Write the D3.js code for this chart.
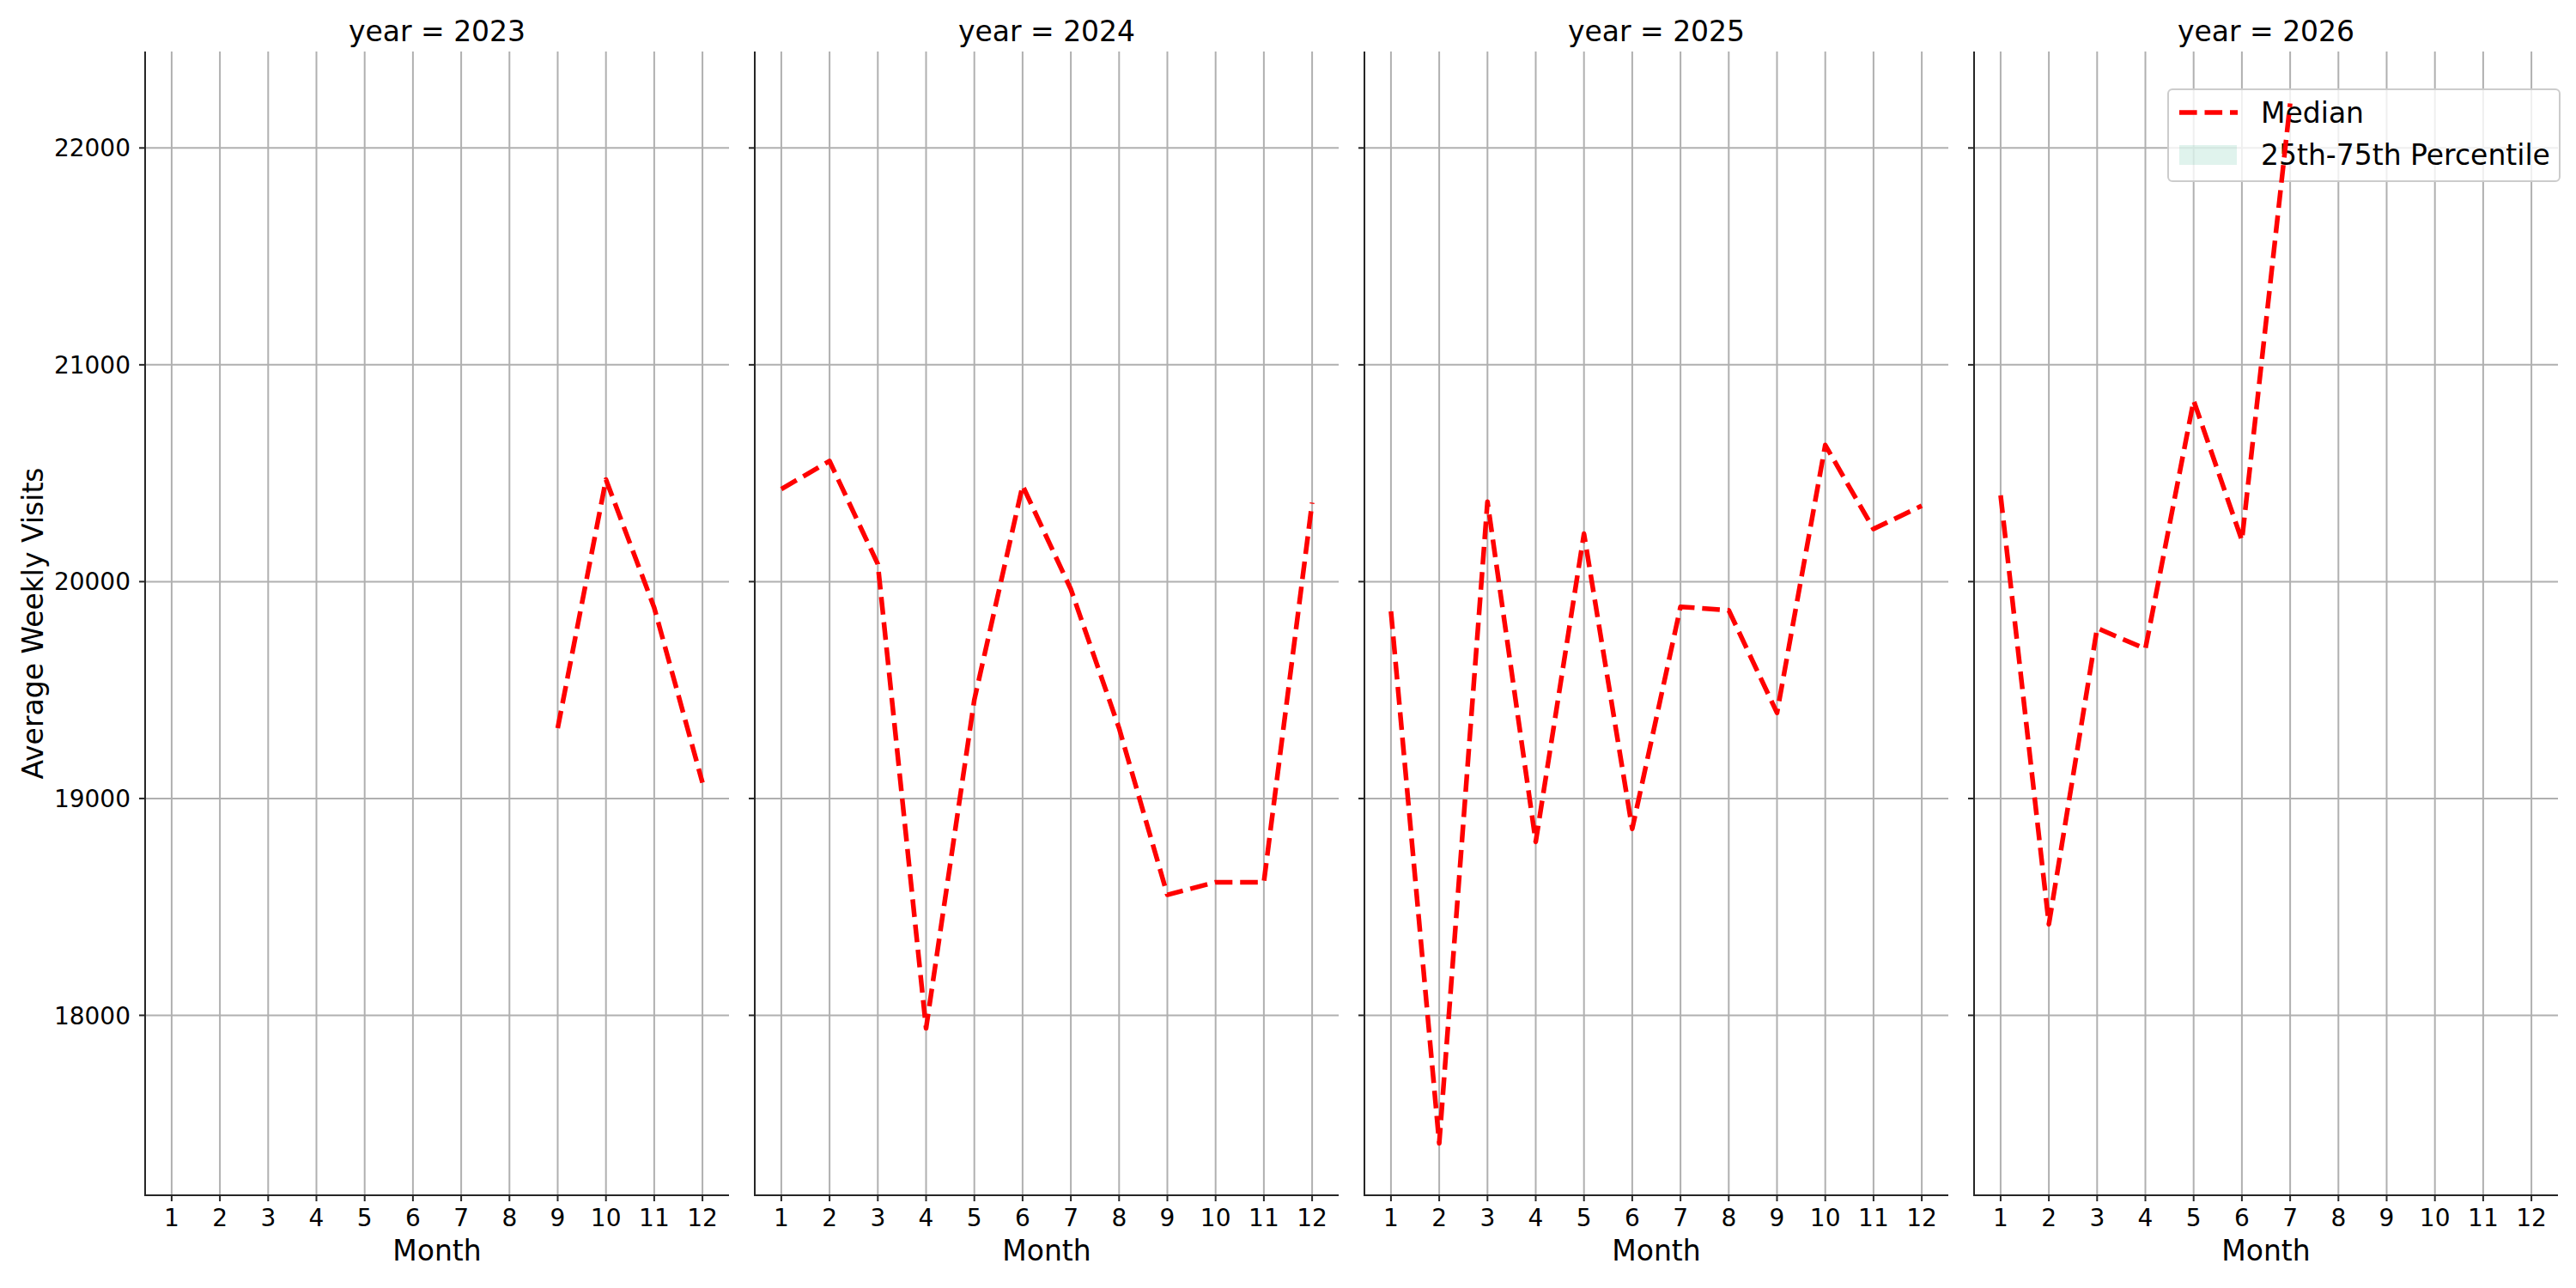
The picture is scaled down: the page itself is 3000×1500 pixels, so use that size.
<!DOCTYPE html>
<html>
<head>
<meta charset="utf-8">
<script src="https://cdn.jsdelivr.net/npm/d3@7"></script>
<style>
  html, body { margin: 0; padding: 0; background: #ffffff; }
  svg { display: block; }
  text { font-family: "DejaVu Sans", sans-serif; fill: #000; }
</style>
</head>
<body>
<svg id="chart" width="3000" height="1500"></svg>
<script>
// ---- data ----
const years = [2023, 2024, 2025, 2026];
const months = [1, 2, 3, 4, 5, 6, 7, 8, 9, 10, 11, 12];
const months2023 = [9, 10, 11, 12];
const median2023 = [19324, 20471, 19880, 19073];
const months2024 = [1, 2, 3, 4, 5, 6, 7, 8, 9, 10, 11, 12];
const median2024 = [20427, 20556, 20081, 17940, 19455, 20443, 19965, 19324, 18556, 18614, 18614, 20364];
const months2025 = [1, 2, 3, 4, 5, 6, 7, 8, 9, 10, 11, 12];
const median2025 = [19863, 17410, 20369, 18800, 20221, 18860, 19884, 19868, 19395, 20630, 20243, 20350];
const months2026 = [1, 2, 3, 4, 5, 6, 7];
const median2026 = [20398, 18420, 19786, 19690, 20835, 20190, 22205];
const yTicks = [18000, 19000, 20000, 21000, 22000];
const legendLabels = ["Median", "25th-75th Percentile"];

const seriesByYear = {
  2023: months2023.map((m, i) => ({ month: m, value: median2023[i] })),
  2024: months2024.map((m, i) => ({ month: m, value: median2024[i] })),
  2025: months2025.map((m, i) => ({ month: m, value: median2025[i] })),
  2026: months2026.map((m, i) => ({ month: m, value: median2026[i] }))
};

// ---- layout ----
const svg = d3.select("#chart");
svg.append("rect").attr("width", 3000).attr("height", 1500).attr("fill", "#fff");

const panelLeft0 = 169, panelStep = 710, panelW = 680;
const plotTop = 60, plotBottom = 1392;

const allVals = [].concat(median2023, median2024, median2025, median2026);
const vMin = d3.min(allVals), vMax = d3.max(allVals);
const pad = (vMax - vMin) * 0.05;
const y = d3.scaleLinear().domain([vMin - pad, vMax + pad]).range([plotBottom, plotTop]);
const x = d3.scaleLinear().domain([1 - 0.55, 12 + 0.55]).range([0, panelW]);

const gridColor = "#b0b0b0";
const spineColor = "#262626";
const lineColor = "#ff0000";
const dash = "20.6,8.9";

const line = d3.line().x(d => x(d.month)).y(d => y(d.value));

const baseLayer = svg.append("g");
const legendLayer = svg.append("g");
const lineLayer = svg.append("g");

years.forEach((yr, pi) => {
  const left = panelLeft0 + pi * panelStep;
  const g = baseLayer.append("g").attr("transform", `translate(${left},0)`);

  // grid
  g.selectAll("line.vgrid").data(months).enter().append("line")
    .attr("x1", d => x(d)).attr("x2", d => x(d))
    .attr("y1", plotTop).attr("y2", plotBottom)
    .attr("stroke", gridColor).attr("stroke-width", 2);
  g.selectAll("line.hgrid").data(yTicks).enter().append("line")
    .attr("x1", 0).attr("x2", panelW)
    .attr("y1", d => y(d)).attr("y2", d => y(d))
    .attr("stroke", gridColor).attr("stroke-width", 2);

  // x ticks
  g.selectAll("line.xtick").data(months).enter().append("line")
    .attr("x1", d => x(d)).attr("x2", d => x(d))
    .attr("y1", plotBottom).attr("y2", plotBottom + 7)
    .attr("stroke", spineColor).attr("stroke-width", 2);
  g.selectAll("text.xtl").data(months).enter().append("text")
    .attr("x", d => x(d)).attr("y", 1428)
    .attr("text-anchor", "middle").attr("font-size", 28)
    .text(d => d);

  // y ticks
  g.selectAll("line.ytick").data(yTicks).enter().append("line")
    .attr("x1", -7).attr("x2", 0)
    .attr("y1", d => y(d)).attr("y2", d => y(d))
    .attr("stroke", spineColor).attr("stroke-width", 2);
  if (pi === 0) {
    g.selectAll("text.ytl").data(yTicks).enter().append("text")
      .attr("x", -17).attr("y", d => y(d))
      .attr("dy", "0.36em")
      .attr("text-anchor", "end").attr("font-size", 28)
      .text(d => d);
  }

  // spines
  g.append("line").attr("x1", 0).attr("x2", 0).attr("y1", plotTop).attr("y2", plotBottom + 1)
    .attr("stroke", spineColor).attr("stroke-width", 2);
  g.append("line").attr("x1", -1).attr("x2", panelW).attr("y1", plotBottom).attr("y2", plotBottom)
    .attr("stroke", spineColor).attr("stroke-width", 2);

  // title
  g.append("text").attr("x", panelW / 2).attr("y", 48)
    .attr("text-anchor", "middle").attr("font-size", 33)
    .text(`year = ${yr}`);
  // x label
  g.append("text").attr("x", panelW / 2).attr("y", 1468)
    .attr("text-anchor", "middle").attr("font-size", 33)
    .text("Month");

  // median line
  lineLayer.append("g").attr("transform", `translate(${left},0)`)
    .append("path").datum(seriesByYear[yr])
    .attr("d", line)
    .attr("fill", "none")
    .attr("stroke", lineColor).attr("stroke-width", 5.5)
    .attr("stroke-dasharray", dash)
    .attr("stroke-linejoin", "round");
});

// y label
baseLayer.append("text")
  .attr("transform", `translate(50,${(plotTop + plotBottom) / 2}) rotate(-90)`)
  .attr("text-anchor", "middle").attr("font-size", 33)
  .text("Average Weekly Visits");

// legend
legendLayer.append("rect").attr("x", 2525).attr("y", 104).attr("width", 456).attr("height", 107)
  .attr("rx", 5).attr("ry", 5)
  .attr("fill", "rgba(255,255,255,0.8)").attr("stroke", "#cccccc").attr("stroke-width", 2);
legendLayer.append("line").attr("x1", 2538).attr("x2", 2606).attr("y1", 131).attr("y2", 131)
  .attr("stroke", lineColor).attr("stroke-width", 5.5).attr("stroke-dasharray", dash);
legendLayer.append("rect").attr("x", 2538).attr("y", 169).attr("width", 67).attr("height", 23)
  .attr("fill", "rgba(102,194,165,0.2)");
legendLayer.selectAll("text.lt").data(legendLabels).enter().append("text")
  .attr("x", 2633).attr("y", (d, i) => 143 + i * 49)
  .attr("font-size", 33).text(d => d);
</script>
</body>
</html>
